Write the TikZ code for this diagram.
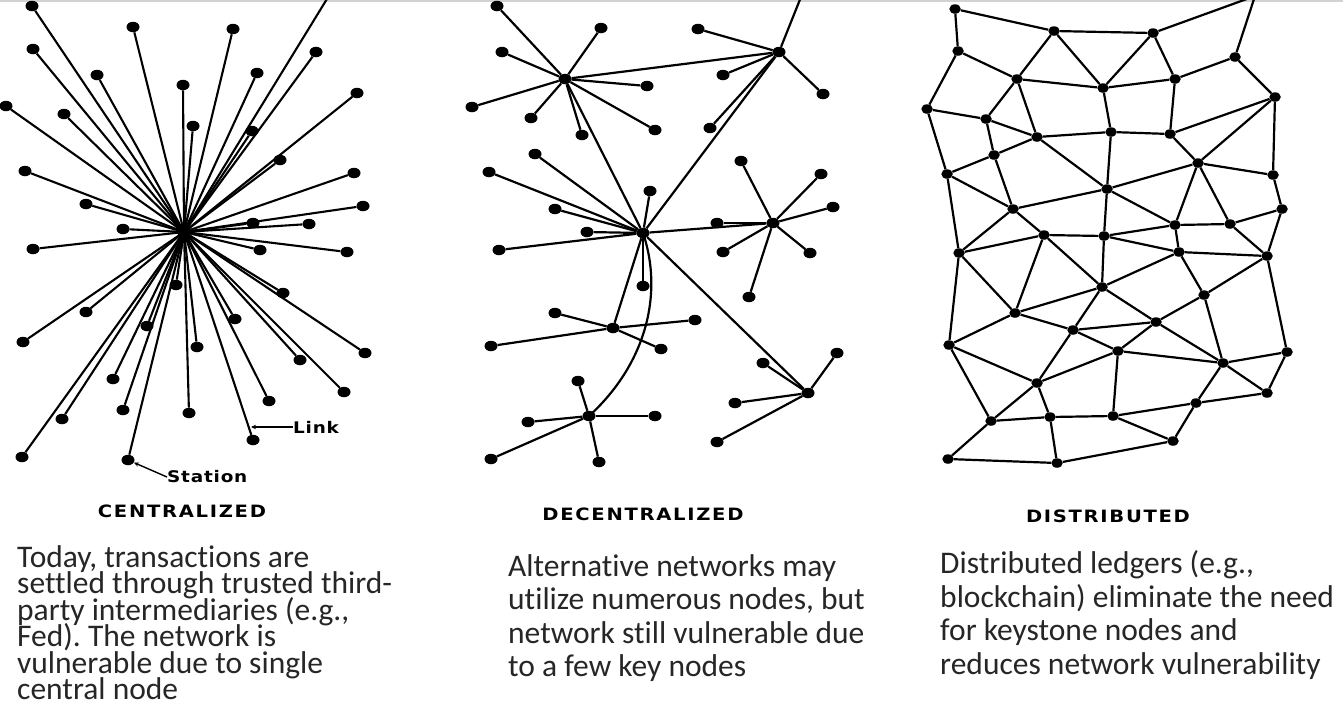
\documentclass[tikz,border=0pt]{standalone}
\usepackage{fontspec}
\setmainfont{Carlito}[Ligatures=NoCommon]
\newfontfamily\lblfont{DejaVu Sans}[LetterSpace=10, FakeStretch=1.15]
\newfontfamily\tagfont{DejaVu Sans}[LetterSpace=5, FakeStretch=1.15]
\usetikzlibrary{shapes.geometric,arrows.meta}
\frenchspacing
\begin{document}
\begin{tikzpicture}[x=1pt,y=-1pt,
  stn/.style={ellipse, fill=black, inner sep=0pt, minimum width=13pt, minimum height=10.5pt},
  sstn/.style={ellipse, fill=black, inner sep=0pt, minimum width=11.5pt, minimum height=9.5pt},
  hubc/.style={circle, fill=black, inner sep=0pt, minimum size=13pt},
  lnk/.style={line width=2.1pt, black},
  dlnk/.style={line width=2.2pt, black},
  bodytxt/.style={anchor=base west, inner sep=0pt, font=\fontsize{31.5}{34}\selectfont, text=black!85},
  captxt/.style={inner sep=0pt, font=\lblfont\bfseries\fontsize{17}{17}\selectfont},
  tagtxt/.style={inner sep=0pt, font=\tagfont\bfseries\fontsize{16}{16}\selectfont},
  leadln/.style={line width=1.4pt, -{Stealth[length=5pt,width=4.5pt]}},
]
\useasboundingbox (0,0) rectangle (1343,710);
\fill[white] (0,0) rectangle (1343,710);
\begin{scope}
\clip (0,0) rectangle (1343,710);
\draw[gray!35, line width=1.5pt] (0,1) -- (1343,1);

% ---------------- Centralized ----------------
\coordinate (ctop) at (330,-6);
\node[hubc] (chub) at (184,232) {};
\draw[lnk] (chub.center) -- (ctop);
\foreach \p [count=\i] in {{32,6},{133,27},{233,29},{316,52},{33,49},{97,75},{257,73},{183,85},{357,93},{6,106},{64,114},{193,126},{252,131},{280,160},{25,171},{354,173},{86,204},{363,206},{123,229},{253,223},{309,224},{33,249},{260,250},{347,252},{283,293},{86,312},{176,285},{147,326},{235,319},{23,342},{197,347},{365,353},{300,360},{113,379},{344,392},{269,401},{62,419},{123,410},{189,413},{253,440},{22,457},{128,460}}
  {\node[stn] (c\i) at (\p) {}; \draw[lnk] (chub.center) -- (c\i);}

\node[tagtxt, anchor=west] (llink) at (293,427) {Link};
\coordinate (linkpt) at (251,427);
\draw[leadln] (llink.west) -- (linkpt);
\node[tagtxt, anchor=west] (lsta) at (167,477) {Station};
\draw[leadln] (lsta.west) -- (c42);

% ---------------- Decentralized ----------------
\coordinate (dtop) at (803,-8);
\node[stn] (dA) at (565,79) {};
\node[stn] (dB) at (779,52) {};
\node[stn] (dC) at (643,233) {};
\node[stn] (dD) at (773,223) {};
\node[stn] (dE) at (613,328) {};
\node[stn] (dF) at (589,416) {};
\node[stn] (dG) at (808,393) {};
\draw[dlnk] (dB) -- (dtop);
\draw[dlnk] (dA) -- (dB);
\draw[dlnk] (dA) -- (dC);
\draw[dlnk] (dB) -- (dC);
\draw[dlnk] (dC) -- (dD);
\draw[dlnk] (dC) -- (dE);
\draw[dlnk] (dC) -- (dG);
\draw[dlnk] (dC.center) .. controls (664,295) and (645,365) .. (dF.center);
\foreach \h/\x/\y [count=\i] in {dA/497/6,dA/601/28,dA/502/52,dA/647/86,dA/472/107,dA/531/118,dA/582/135,dA/655/130,
  dB/698/29,dB/723/75,dB/823/94,dB/710/128,
  dC/535/154,dC/489/172,dC/650/191,dC/555/209,dC/587/232,dC/499/250,dC/643/286,
  dD/741/161,dD/821/174,dD/833/207,dD/717/223,dD/723/252,dD/810/253,dD/749/297,
  dE/555/313,dE/695/320,dE/491/346,dE/661/349,
  dF/578/381,dF/528/422,dF/655/416,dF/491/459,dF/599/462,
  dG/763/363,dG/837/353,dG/735/403,dG/717/442}
  {\node[stn] (dl\i) at (\x,\y) {}; \draw[dlnk] (\h) -- (dl\i);}

% ---------------- Distributed ----------------
\coordinate (ttop) at (1255,-4);
\foreach \n/\x/\y in {n1/955/9,n2/1054/31,n3/1153/33,n4/958/51,n5/1235/57,n6/1017/79,n7/1103/88,n8/1175/79,n9/1275/97,
  n10/927/109,n11/986/119,n12/1037/137,n13/1111/132,n14/1170/134,n15/994/155,n16/1198/163,n17/1273/175,n18/947/174,
  n19/1107/189,n20/1013/209,n21/1282/209,n22/1230/224,n23/1175/225,n24/1044/235,n25/1104/236,
  m1/959/253,m4/1179/252,m5/1267/256,m6/1102/287,m7/1204/295,m8/1015/313,m9/1073/330,m10/1156/322,
  m11/949/345,m12/1118/351,m13/1223/363,m14/1287/352,m15/1037/383,m16/1267/393,m17/1196/403,
  m18/991/421,m19/1050/417,m20/1113/416,m21/1173/441,m22/948/459,m23/1057/463}
  {\node[sstn] (\n) at (\x,\y) {};}
\foreach \a/\b in {n1/n4,n1/n2,n2/n3,n3/ttop,n5/ttop,n2/n6,n2/n7,n3/n7,n3/n8,n4/n10,n4/n6,n6/n7,n6/n11,n6/n12,
  n7/n13,n7/n8,n8/n5,n8/n14,n5/n9,n9/n14,n9/n16,n9/n17,n10/n11,n10/n18,n11/n12,n11/n15,n12/n13,n12/n15,n12/n19,
  n13/n14,n13/n19,n14/n16,n15/n18,n15/n20,n16/n19,n16/n17,n16/n23,n16/n22,n17/n21,n18/n20,n18/m1,n19/n25,n19/n23,
  n20/n24,n20/m1,n20/n19,n21/n22,n21/m5,n22/m5,n23/n22,n23/n25,n23/m4,n24/n25,n24/m1,n24/m8,n24/m6,n25/m6,n25/m4,
  m1/m11,m1/m8,m4/m5,m4/m6,m4/m7,m5/m7,m5/m14,m6/m8,m6/m9,m6/m10,m7/m10,m7/m13,m8/m11,m8/m9,m9/m10,m9/m12,m9/m15,
  m10/m12,m10/m13,m11/m15,m11/m18,m12/m13,m12/m15,m12/m20,m13/m14,m13/m16,m13/m17,m14/m16,m15/m18,m15/m19,
  m16/m17,m17/m21,m18/m19,m18/m22,m19/m20,m19/m23,m20/m17,m20/m21,m22/m23,m23/m21}
  {\draw[dlnk] (\a) -- (\b);}
\end{scope}

% ---------------- Captions ----------------
\node[captxt] (lcen) at (182,511) {CENTRALIZED};
\node[captxt] (ldec) at (643,514) {DECENTRALIZED};
\node[captxt] (ldis) at (1108,516) {DISTRIBUTED};

\node[bodytxt] (p1a) at (17,567) {Today, transactions are};
\node[bodytxt] (p1b) at (17,593.5) {settled through trusted third-};
\node[bodytxt] (p1c) at (17,620) {party intermediaries (e.g.,};
\node[bodytxt] (p1d) at (17,646.5) {Fed). The network is};
\node[bodytxt] (p1e) at (17,673) {vulnerable due to single};
\node[bodytxt] (p1f) at (17,699.5) {central node};

\node[bodytxt] (p2a) at (508,576) {Alternative networks may};
\node[bodytxt] (p2b) at (508,609.5) {utilize numerous nodes, but};
\node[bodytxt] (p2c) at (508,643) {network still vulnerable due};
\node[bodytxt] (p2d) at (508,676.5) {to a few key nodes};

\node[bodytxt] (p3a) at (940,573) {Distributed ledgers (e.g.,};
\node[bodytxt] (p3b) at (940,607) {blockchain) eliminate the need};
\node[bodytxt] (p3c) at (940,640.5) {for keystone nodes and};
\node[bodytxt] (p3d) at (940,674.5) {reduces network vulnerability};
\end{tikzpicture}
\end{document}
